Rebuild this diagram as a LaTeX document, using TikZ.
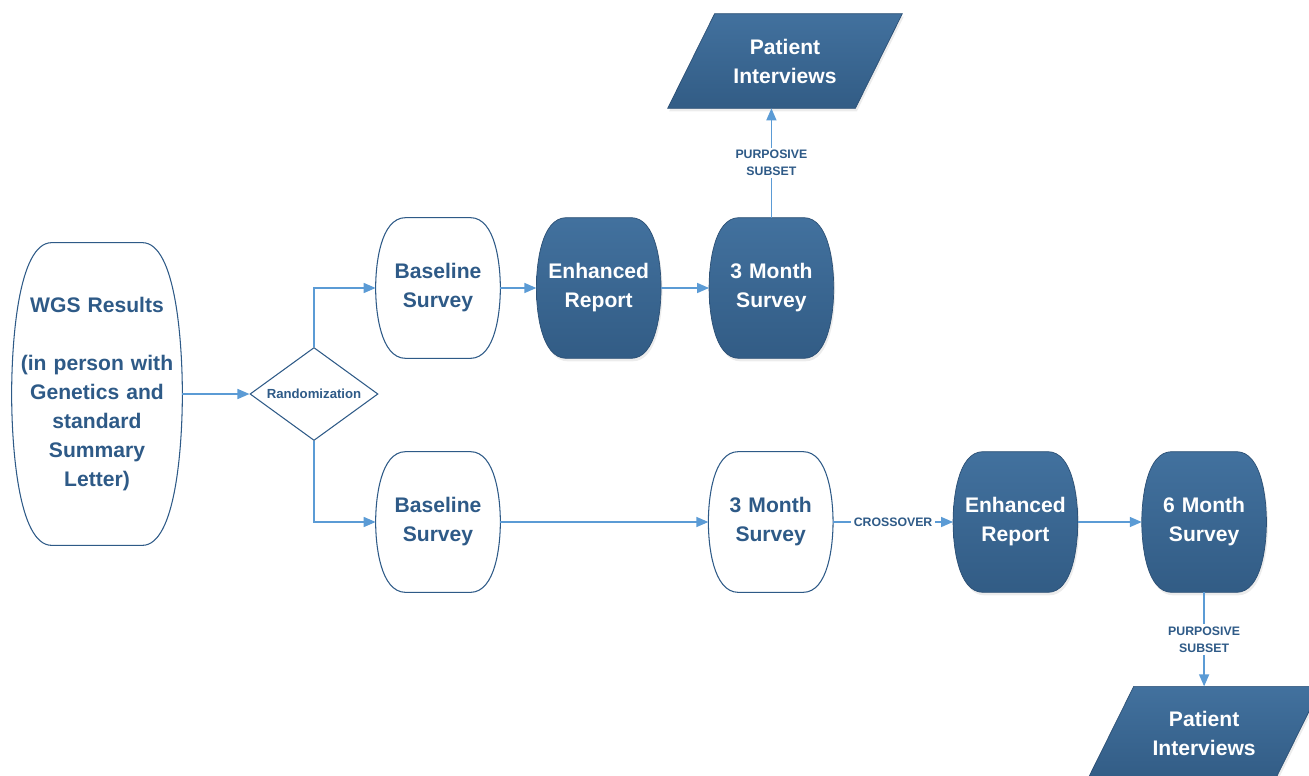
\documentclass[tikz,border=0pt]{standalone}
\usepackage{fontspec}
\setmainfont{Liberation Sans}
\usetikzlibrary{arrows.meta}
\usetikzlibrary{shapes.geometric,positioning}
\usetikzlibrary{backgrounds,calc,shadows}
\definecolor{darkblue}{HTML}{2E5A87}
\definecolor{edgeblue}{HTML}{2C5075}
\definecolor{lineblue}{HTML}{5B9BD5}
\tikzset{>={Triangle[length=0.24cm,width=0.2cm]},
  box/.style={minimum width=2.48cm, minimum height=2.8cm, text width=2.4cm,
    align=center, inner sep=0pt, text=darkblue,
    font=\fontsize{12}{16.5}\selectfont\bfseries},
  darkbox/.style={box, text=white},
  slanted/.style={minimum width=3.74cm, minimum height=1.88cm, align=center,
    inner sep=0pt, text=white, font=\fontsize{12}{16.5}\selectfont\bfseries},
  tag/.style={fill=white, inner sep=1.5pt, align=center, text=darkblue,
    font=\fontsize{7}{9.6}\selectfont\bfseries},
  flow/.style={->, draw=lineblue, line width=0.85pt},
  plainfill/.style={draw=darkblue, line width=0.6pt, fill=white},
  darkfill/.style={draw=edgeblue, line width=0.4pt,
    top color={rgb,255:red,66;green,113;blue,158},
    bottom color={rgb,255:red,50;green,92;blue,133},
    drop shadow={opacity=0.15, shadow xshift=0.03cm, shadow yshift=-0.06cm}}
}
% barrel outline behind a node: name, inset of the flat top, style
\newcommand\barrel[3]{%
  \path[#3] ($(#1.north west)+(#2,0)$) -- ($(#1.north east)+(-#2,0)$)
    .. controls ($(#1.north east)+(-#2*0.15,0)$) and ($(#1.east)!0.32!(#1.north east)$) .. (#1.east)
    .. controls ($(#1.east)!0.32!(#1.south east)$) and ($(#1.south east)+(-#2*0.15,0)$) .. ($(#1.south east)+(-#2,0)$)
    -- ($(#1.south west)+(#2,0)$)
    .. controls ($(#1.south west)+(#2*0.15,0)$) and ($(#1.west)!0.32!(#1.south west)$) .. (#1.west)
    .. controls ($(#1.west)!0.32!(#1.north west)$) and ($(#1.north west)+(#2*0.15,0)$) .. ($(#1.north west)+(#2,0)$)
    -- cycle;}

\begin{document}
\begin{tikzpicture}
    \useasboundingbox (0,0) rectangle (26.18,-15.5);

    \node[box, minimum width=3.4cm, minimum height=6.04cm, text width=3.3cm] (wgs) at (1.94,-7.88)
      {WGS Results\\[16.5pt](in person with\\ Genetics and\\ standard\\ Summary\\ Letter)};
    \node[diamond, aspect=1.38, draw=darkblue, line width=0.6pt, minimum width=2.56cm,
      minimum height=1.86cm, inner sep=0pt, text=darkblue,
      font=\fontsize{7.5}{9}\selectfont\bfseries] (rand) at (6.28,-7.88) {Randomization};

    % arm one
    \node[box] (base1) at (8.76,-5.76) {Baseline\\ Survey};
    \node[darkbox, right=0.72cm of base1] (enh1) {Enhanced\\ Report};
    \node[darkbox, right=0.96cm of enh1] (three1) {3 Month\\ Survey};
    \node[slanted] (pat1) at (15.7,-1.22) {Patient\\ Interviews};

    % arm two
    \node[box] (base2) at (8.76,-10.44) {Baseline\\ Survey};
    \node[box, right=4.16cm of base2] (three2) {3 Month\\ Survey};
    \node[darkbox, right=2.4cm of three2] (enh2) {Enhanced\\ Report};
    \node[darkbox, right=1.28cm of enh2] (six) {6 Month\\ Survey};
    \node[slanted, below=1.88cm of six] (pat2) {Patient\\ Interviews};

    \begin{scope}[on background layer]
      \barrel{wgs}{0.8}{plainfill}
      \foreach \n in {base1,base2,three2} {\barrel{\n}{0.6}{plainfill}}
      \foreach \n in {enh1,three1,enh2,six} {\barrel{\n}{0.6}{darkfill}}
      \foreach \n in {pat1,pat2} {
        \path[darkfill] ($(\n.south west)+(-0.47,0)$) -- ($(\n.south east)+(-0.47,0)$)
          -- ($(\n.north east)+(0.47,0)$) -- ($(\n.north west)+(0.47,0)$) -- cycle;}
    \end{scope}

    \draw[flow] (wgs) -- (rand);
    \draw[flow] (rand.north) |- (base1.west);
    \draw[flow] (rand.south) |- (base2.west);
    \draw[flow] (base1) -- (enh1);
    \draw[flow] (enh1) -- (three1);
    \draw[flow] (three1.north) -- node[tag]{PURPOSIVE\\SUBSET} (three1.north |- pat1.south);
    \draw[flow] (base2) -- (three2);
    \draw[flow] (three2) -- node[tag]{CROSSOVER} (enh2);
    \draw[flow] (enh2) -- (six);
    \draw[flow] (six) -- node[tag]{PURPOSIVE\\SUBSET} (pat2);
\end{tikzpicture}
\end{document}
